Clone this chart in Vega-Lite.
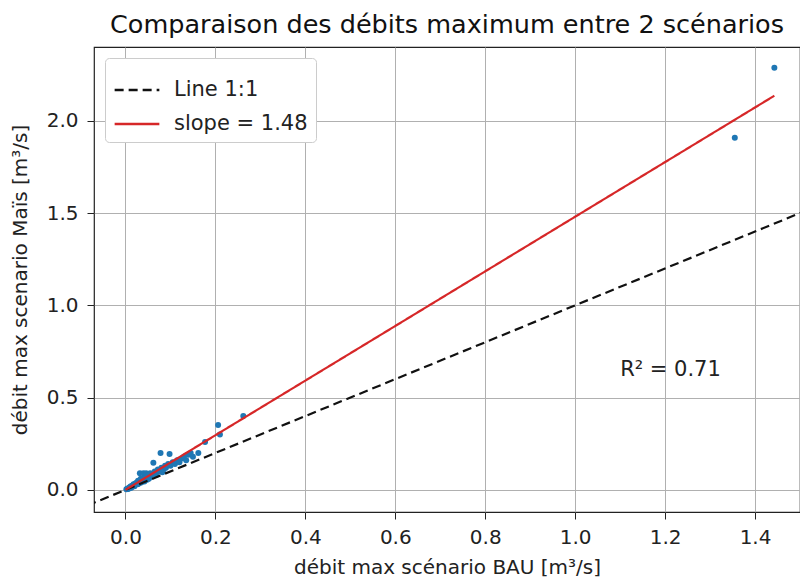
{
  "$schema": "https://vega.github.io/schema/vega-lite/v6.json",
  "width": 706,
  "height": 465,
  "padding": {"left": 10, "top": 12, "right": 0, "bottom": 0},
  "background": "white",
  "config": {
    "font": "DejaVu Sans",
    "view": {"stroke": "#222", "strokeWidth": 1.2},
    "axis": {
      "domain": false,
      "grid": true,
      "gridColor": "#b0b0b0",
      "gridWidth": 1,
      "tickColor": "#222",
      "tickSize": 7,
      "labelFontSize": 20,
      "labelColor": "#222",
      "titleFontSize": 20,
      "titleFontWeight": "normal",
      "titleColor": "#222",
      "labelFont": "DejaVu Sans",
      "titleFont": "DejaVu Sans"
    }
  },
  "title": {
    "text": "Comparaison des débits maximum entre 2 scénarios",
    "fontSize": 25.5,
    "fontWeight": "normal",
    "color": "#111",
    "anchor": "middle",
    "offset": 9
  },
  "datasets": {
    "pts": [
      {"bau": 0.002, "mais": 0.003}, {"bau": 0.004, "mais": 0.005}, {"bau": 0.005, "mais": 0.008},
      {"bau": 0.006, "mais": 0.004}, {"bau": 0.008, "mais": 0.012}, {"bau": 0.01, "mais": 0.015},
      {"bau": 0.01, "mais": 0.01}, {"bau": 0.012, "mais": 0.02}, {"bau": 0.013, "mais": 0.012},
      {"bau": 0.015, "mais": 0.022}, {"bau": 0.016, "mais": 0.018}, {"bau": 0.018, "mais": 0.03},
      {"bau": 0.02, "mais": 0.025}, {"bau": 0.02, "mais": 0.02}, {"bau": 0.022, "mais": 0.035},
      {"bau": 0.024, "mais": 0.03}, {"bau": 0.025, "mais": 0.04}, {"bau": 0.027, "mais": 0.03},
      {"bau": 0.028, "mais": 0.05}, {"bau": 0.03, "mais": 0.045}, {"bau": 0.03, "mais": 0.035},
      {"bau": 0.032, "mais": 0.09}, {"bau": 0.034, "mais": 0.06}, {"bau": 0.035, "mais": 0.04},
      {"bau": 0.037, "mais": 0.05}, {"bau": 0.04, "mais": 0.09}, {"bau": 0.04, "mais": 0.06},
      {"bau": 0.042, "mais": 0.045}, {"bau": 0.045, "mais": 0.07}, {"bau": 0.046, "mais": 0.09},
      {"bau": 0.048, "mais": 0.055}, {"bau": 0.05, "mais": 0.08}, {"bau": 0.052, "mais": 0.06},
      {"bau": 0.055, "mais": 0.09}, {"bau": 0.056, "mais": 0.07}, {"bau": 0.06, "mais": 0.085},
      {"bau": 0.062, "mais": 0.147}, {"bau": 0.063, "mais": 0.09}, {"bau": 0.065, "mais": 0.1},
      {"bau": 0.068, "mais": 0.08}, {"bau": 0.07, "mais": 0.1}, {"bau": 0.072, "mais": 0.11},
      {"bau": 0.075, "mais": 0.1}, {"bau": 0.078, "mais": 0.2}, {"bau": 0.08, "mais": 0.12},
      {"bau": 0.082, "mais": 0.095}, {"bau": 0.085, "mais": 0.11}, {"bau": 0.088, "mais": 0.13},
      {"bau": 0.09, "mais": 0.12}, {"bau": 0.095, "mais": 0.14}, {"bau": 0.098, "mais": 0.195},
      {"bau": 0.1, "mais": 0.13}, {"bau": 0.105, "mais": 0.15}, {"bau": 0.11, "mais": 0.14},
      {"bau": 0.115, "mais": 0.16}, {"bau": 0.12, "mais": 0.15}, {"bau": 0.125, "mais": 0.17},
      {"bau": 0.13, "mais": 0.18}, {"bau": 0.135, "mais": 0.16}, {"bau": 0.14, "mais": 0.19},
      {"bau": 0.145, "mais": 0.2}, {"bau": 0.15, "mais": 0.18}, {"bau": 0.162, "mais": 0.2},
      {"bau": 0.177, "mais": 0.26}, {"bau": 0.206, "mais": 0.352}, {"bau": 0.21, "mais": 0.3},
      {"bau": 0.262, "mais": 0.4}, {"bau": 1.355, "mais": 1.908}, {"bau": 1.443, "mais": 2.287}
    ],
    "lines": [
      {"series": "Line 1:1", "bau": -0.2, "mais": -0.2},
      {"series": "Line 1:1", "bau": 1.7, "mais": 1.7},
      {"series": "slope = 1.48", "bau": 0.0, "mais": 0.0},
      {"series": "slope = 1.48", "bau": 1.443, "mais": 2.136}
    ],
    "note": [{"bau": 1.1, "mais": 0.65, "label": "R² = 0.71"}]
  },
  "layer": [
    {
      "data": {"name": "pts"},
      "mark": {"type": "circle", "size": 36, "color": "#1f77b4", "opacity": 1},
      "encoding": {
        "x": {"field": "bau", "type": "quantitative",
              "scale": {"domain": [-0.07, 1.5], "nice": false, "zero": false},
              "axis": {"values": [0, 0.2, 0.4, 0.6, 0.8, 1.0, 1.2, 1.4], "format": ".1f", "title": "débit max scénario BAU [m³/s]", "titlePadding": 10, "labelPadding": 8}},
        "y": {"field": "mais", "type": "quantitative",
              "scale": {"domain": [-0.12, 2.4], "nice": false, "zero": false},
              "axis": {"values": [0, 0.5, 1.0, 1.5, 2.0], "format": ".1f", "title": "débit max scenario Maïs [m³/s]", "titlePadding": 16, "labelPadding": 9}}
      }
    },
    {
      "data": {"name": "lines"},
      "mark": {"type": "line", "clip": true, "strokeWidth": 2.2},
      "encoding": {
        "x": {"field": "bau", "type": "quantitative"},
        "y": {"field": "mais", "type": "quantitative"},
        "color": {"field": "series", "type": "nominal",
                  "scale": {"domain": ["Line 1:1", "slope = 1.48"], "range": ["#111111", "#d62728"]},
                  "legend": {"title": null, "orient": "top-left", "offset": 11, "symbolType": "stroke", "symbolSize": 2000, "symbolStrokeWidth": 2.4, "labelFontSize": 21, "labelColor": "#222", "strokeColor": "#cccccc", "fillColor": "white", "padding": 8, "cornerRadius": 4, "rowPadding": 0, "labelOffset": 13}},
        "strokeDash": {"field": "series", "type": "nominal",
                  "scale": {"domain": ["Line 1:1", "slope = 1.48"], "range": [[9, 5], [1, 0]]},
                  "legend": {"title": null}}
      }
    },
    {
      "data": {"name": "note"},
      "mark": {"type": "text", "align": "left", "baseline": "middle", "fontSize": 21, "color": "#222"},
      "encoding": {
        "x": {"field": "bau", "type": "quantitative"},
        "y": {"field": "mais", "type": "quantitative"},
        "text": {"field": "label"}
      }
    }
  ]
}
